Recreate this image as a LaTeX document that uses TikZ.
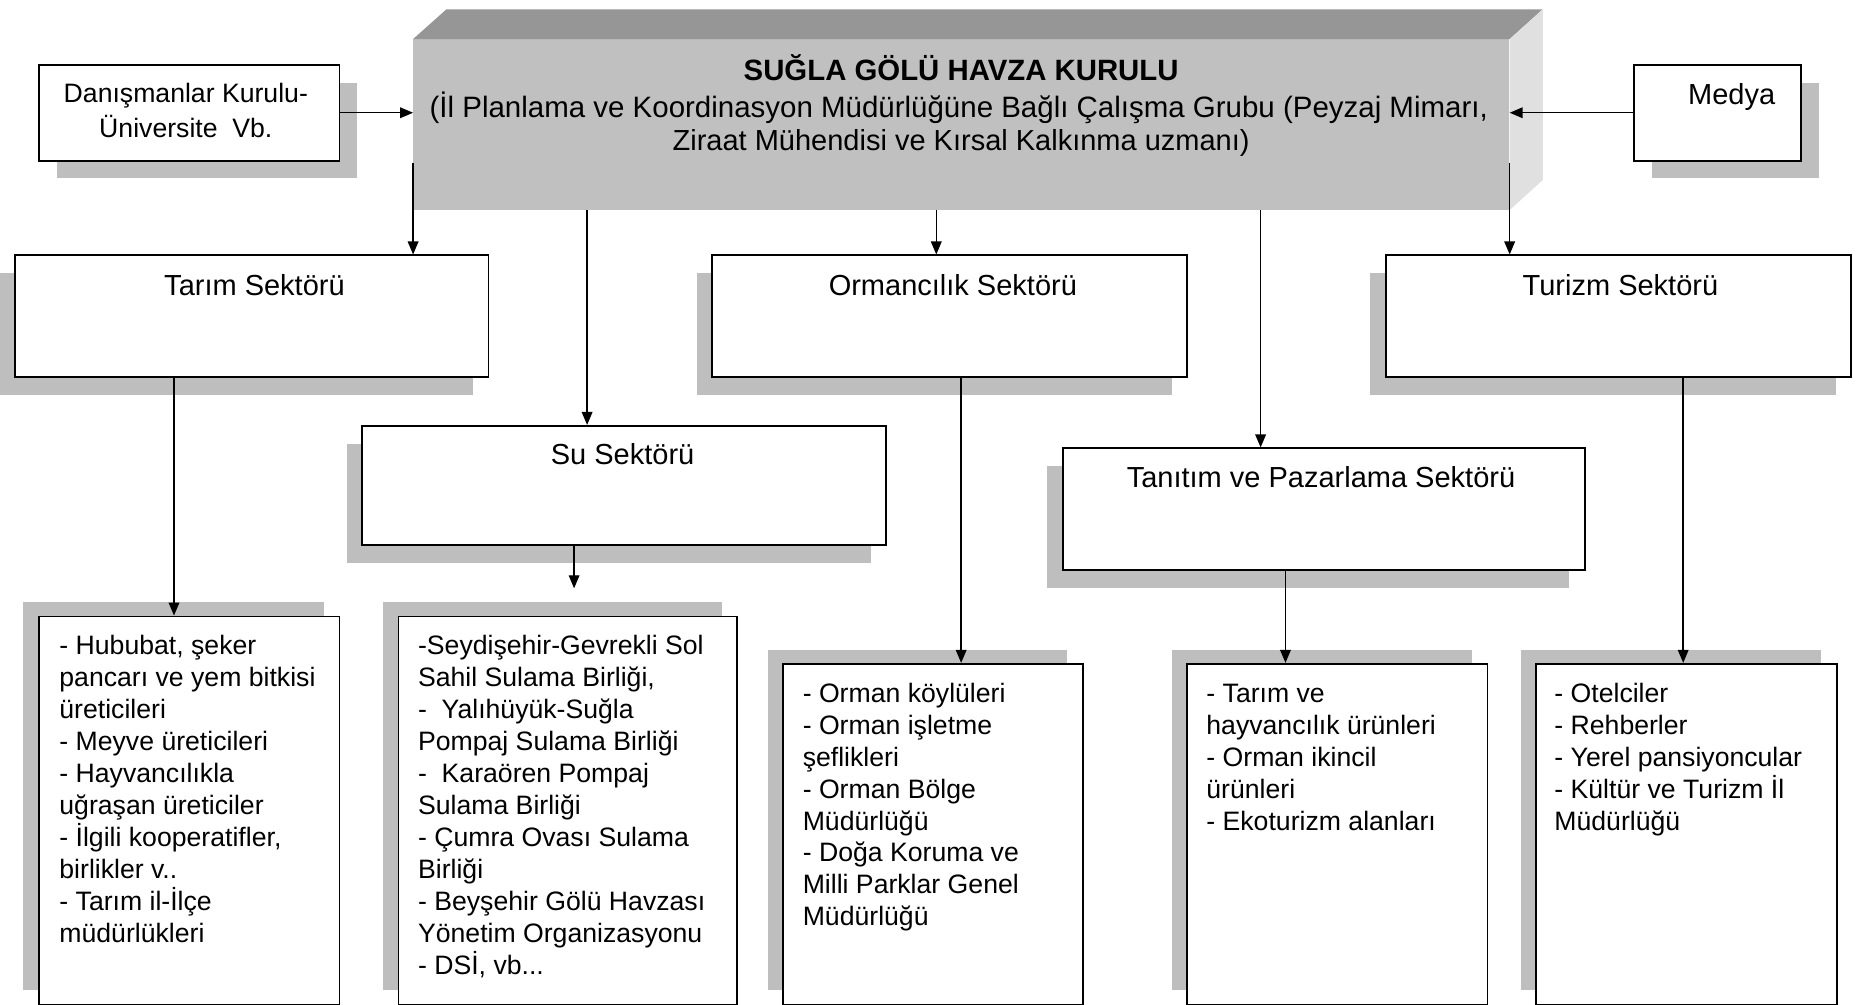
\documentclass[tikz,border=0pt]{standalone}
\usepackage{fontspec}
\setmainfont{Liberation Sans}
\usetikzlibrary{arrows.meta,shadows,calc}
\definecolor{frontgray}{RGB}{192,192,192}
\definecolor{topgray}{RGB}{150,150,150}
\definecolor{sidegray}{RGB}{224,224,224}
\definecolor{shadegray}{RGB}{190,190,190}
\begin{document}
\begin{tikzpicture}[x=1pt,y=-1pt,
  box/.style={draw=black, line width=1.5pt, fill=white, anchor=north west, inner sep=0pt},
  shR/.style={drop shadow={shadow xshift=15pt, shadow yshift=-15pt, opacity=1, fill=shadegray}},
  shL/.style={drop shadow={shadow xshift=-13pt, shadow yshift=-15pt, opacity=1, fill=shadegray}},
  shUL/.style={drop shadow={shadow xshift=-13pt, shadow yshift=12pt, opacity=1, fill=shadegray}},
  title/.style={font=\fontsize{24.5}{29}\selectfont, anchor=base, inner sep=0pt},
  leaf/.style={font=\fontsize{22.5}{27}\selectfont, anchor=north west, align=left, inner sep=0pt},
  arr/.style={-{Triangle[length=11pt,width=9pt]}, line width=1.2pt}
]
\useasboundingbox[fill=white] (0,0) rectangle (1568,849);

% --- main 3D box ---
\node[fill=frontgray, anchor=north west, inner sep=0pt, minimum width=926pt, minimum height=144pt] (top) at (349,33) {};
\fill[topgray] (top.north west) -- ++(28,-25) -- ++(926,0) -- (top.north east) -- cycle;
\fill[sidegray] (top.north east) -- ++(28,-25) -- ++(0,144) -- (top.south east) -- cycle;
\node[title, font=\bfseries\fontsize{24.8}{29}\selectfont] (h1) at (812,68) {SUĞLA GÖLÜ HAVZA KURULU};
\node[title, font=\fontsize{24.9}{29}\selectfont] (h2) at (810,99) {(İl Planlama ve Koordinasyon Müdürlüğüne Bağlı Çalışma Grubu (Peyzaj Mimarı,};
\node[title] (h3) at (812,127) {Ziraat Mühendisi ve Kırsal Kalkınma uzmanı)};

% --- side boxes ---
\node[box, shR, minimum width=254pt, minimum height=81pt] (dan) at (32,54) {};
\node[font=\fontsize{22.5}{30}\selectfont, align=center, anchor=north, inner sep=0pt] (danT) at (157,66) {\rule{0pt}{20pt}Danışmanlar Kurulu-\\Üniversite\ \ Vb.};
\node[box, shR, minimum width=141pt, minimum height=81pt] (medya) at (1380,54) {};
\node[title] (medyaT) at (1463,88) {Medya};

% --- sector boxes ---
\node[box, shL, minimum width=400pt, minimum height=103pt] (tarim) at (12,215) {};
\node[title] (tarimT) at (215,250) {Tarım Sektörü};
\node[box, shL, minimum width=401pt, minimum height=103pt] (orman) at (601,215) {};
\node[title] (ormanT) at (805,250) {Ormancılık Sektörü};
\node[box, shL, minimum width=393pt, minimum height=103pt] (turizm) at (1170,215) {};
\node[title] (turizmT) at (1369,250) {Turizm Sektörü};
\node[box, shL, minimum width=443pt, minimum height=101pt] (su) at (305,359) {};
\node[title] (suT) at (526,392) {Su Sektörü};
\node[box, shL, minimum width=441pt, minimum height=103pt] (tanitim) at (897,378) {};
\node[title] (tanitimT) at (1116,412) {Tanıtım ve Pazarlama Sektörü};

% --- leaf boxes ---
\node[box, shUL, minimum width=254pt, minimum height=328pt] (la) at (32,520) {};
\node[leaf] (laT) at (50,533) {\rule{0pt}{20pt}- Hububat, şeker\\pancarı ve yem bitkisi\\üreticileri\\- Meyve üreticileri\\- Hayvancılıkla\\uğraşan üreticiler\\- İlgili kooperatifler,\\birlikler v..\\- Tarım il-İlçe\\müdürlükleri};
\node[box, shUL, minimum width=286pt, minimum height=328pt] (lb) at (336,520) {};
\node[leaf] (lbT) at (353,533) {\rule{0pt}{20pt}-Seydişehir-Gevrekli Sol\\Sahil Sulama Birliği,\\-\ \ Yalıhüyük-Suğla\\Pompaj Sulama Birliği\\-\ \ Karaören Pompaj\\Sulama Birliği\\- Çumra Ovası Sulama\\Birliği\\- Beyşehir Gölü Havzası\\Yönetim Organizasyonu\\- DSİ, vb...};
\node[box, shUL, minimum width=253pt, minimum height=288pt] (lc) at (661,560) {};
\node[leaf] (lcT) at (678,573) {\rule{0pt}{20pt}- Orman köylüleri\\- Orman işletme\\şeflikleri\\- Orman Bölge\\Müdürlüğü\\- Doğa Koruma ve\\Milli Parklar Genel\\Müdürlüğü};
\node[box, shUL, minimum width=254pt, minimum height=288pt] (ld) at (1002,560) {};
\node[leaf] (ldT) at (1019,573) {\rule{0pt}{20pt}- Tarım ve\\hayvancılık ürünleri\\- Orman ikincil\\ürünleri\\- Ekoturizm alanları};
\node[box, shUL, minimum width=254pt, minimum height=288pt] (le) at (1297,560) {};
\node[leaf] (leT) at (1313,573) {\rule{0pt}{20pt}- Otelciler\\- Rehberler\\- Yerel pansiyoncular\\- Kültür ve Turizm İl\\Müdürlüğü};

% --- connectors ---
\coordinate (a1) at ([yshift=40pt]top.south west);
\coordinate (a2) at ([xshift=147pt]top.south west);
\coordinate (a3) at ([xshift=442pt]top.south west);
\coordinate (a4) at ([xshift=716pt]top.south west);
\coordinate (a5) at ([yshift=40pt]top.south east);
\draw[arr] (a1) -- (a1 |- tarim.north);
\draw[arr] (a2) -- (a2 |- su.north);
\draw[arr] (a3) -- (a3 |- orman.north);
\draw[arr] (a4) -- (a4 |- tanitim.north);
\draw[arr] (a5) -- (a5 |- turizm.north);
\draw[arr] (dan.east) -- (dan.east -| top.west);
\draw[arr] (medya.west) -- (medya.west -| top.east);

\coordinate (b1) at ([xshift=135pt]tarim.south west);
\coordinate (b2) at ([xshift=180pt]su.south west);
\coordinate (b3) at ([xshift=211pt]orman.south west);
\coordinate (b4) at ([xshift=189pt]tanitim.south west);
\coordinate (b5) at ([xshift=252pt]turizm.south west);
\draw[arr] (b1) -- (b1 |- la.north);
\draw[arr] (b2) -- ($(b2 |- lb.north)+(0,-23)$);
\draw[arr] (b3) -- (b3 |- lc.north);
\draw[arr] (b4) -- (b4 |- ld.north);
\draw[arr] (b5) -- (b5 |- le.north);
\end{tikzpicture}
\end{document}
